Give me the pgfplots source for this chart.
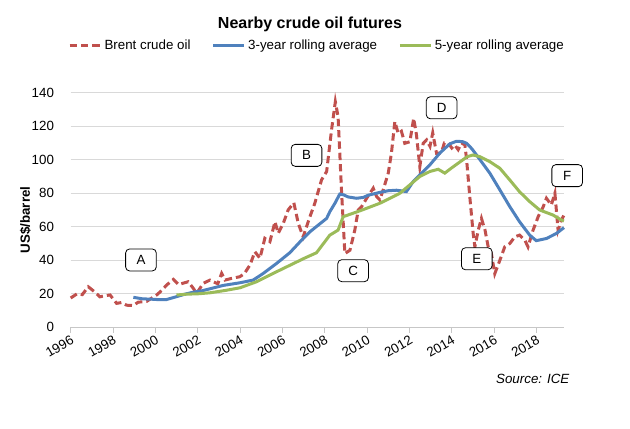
\documentclass[border=0pt]{standalone}
\usepackage{fontspec}
\setmainfont{Liberation Sans}
\usepackage{pgfplots}
\pgfplotsset{compat=1.18}
\usetikzlibrary{calc}

\definecolor{brentred}{RGB}{192,80,77}
\definecolor{avgblue}{RGB}{79,129,189}
\definecolor{avggreen}{RGB}{155,187,89}
\definecolor{gridgray}{RGB}{217,217,217}

\begin{document}
\begin{tikzpicture}
\begin{axis}[
  name=ax, at={(0,0)}, anchor=south west,
  width=370pt, height=176pt, scale only axis,
  xmin=1996, xmax=2019.3, ymin=0, ymax=140,
  xtick={1996,1998,...,2018}, ytick={0,20,...,140},
  /pgf/number format/assume math mode=true,
  /pgf/number format/1000 sep={},
  xticklabel style={rotate=30, anchor=north east, inner sep=1pt, font=\fontsize{10}{12}\selectfont},
  yticklabel style={font=\fontsize{10}{12}\selectfont, xshift=-5pt},
  separate axis lines,
  axis x line*=bottom, axis y line*=left,
  x axis line style={gridgray!80!gray, line width=0.75pt, -},
  y axis line style={draw=none},
  ytick style={draw=none},
  xtick style={gridgray!80!gray, line width=0.75pt},
  tick align=outside, major tick length=4pt,
  ymajorgrids, grid style={gridgray, line width=0.75pt},
  clip=false,
  legend columns=3,
  legend style={at={(0.5,1)}, anchor=center, yshift=35.5pt, draw=none, fill=none,
    font=\fontsize{10}{12}\selectfont,
    /tikz/every even column/.append style={column sep=14pt},
    inner sep=0pt},
  legend image code/.code={\draw[#1] (0pt,0pt) -- (23pt,0pt);},
]

\addplot[brentred, line width=2.25pt, dash pattern=on 5.5pt off 3pt] coordinates {
  (1996.0, 17.5) (1996.3, 20.0) (1996.55, 19.5) (1996.83, 24.2)
  (1997.1, 21.5) (1997.38, 18.2) (1997.6, 18.8) (1997.86, 19.3)
  (1998.17, 14.3) (1998.4, 14.8) (1998.64, 13.2) (1998.95, 13.0)
  (1999.19, 15.0) (1999.59, 15.5) (2000.06, 19.3) (2000.3, 22.0)
  (2000.53, 25.2) (2000.85, 28.6) (2001.1, 25.5) (2001.3, 26.3)
  (2001.55, 27.2) (2001.79, 23.3) (2001.95, 20.3) (2002.26, 26.2)
  (2002.58, 28.2) (2002.73, 27.2) (2002.95, 26.0) (2003.13, 32.2)
  (2003.29, 28.2) (2003.6, 29.2) (2003.99, 30.2) (2004.2, 32.0)
  (2004.47, 37.2) (2004.7, 45.1) (2004.94, 41.2) (2005.17, 53.1)
  (2005.41, 51.1) (2005.65, 63.0) (2005.8, 56.1) (2006.04, 62.0)
  (2006.27, 70.0) (2006.54, 74.3) (2006.75, 62.0) (2006.98, 54.0)
  (2007.3, 66.0) (2007.53, 74.0) (2007.85, 88.0) (2008.09, 93.0)
  (2008.32, 117.7) (2008.5, 134.6) (2008.63, 125.7) (2008.79, 82.0)
  (2008.95, 44.0) (2009.19, 46.0) (2009.42, 58.0) (2009.58, 70.0)
  (2009.74, 72.0) (2009.98, 77.0) (2010.29, 83.0) (2010.45, 78.0)
  (2010.6, 76.0) (2010.76, 82.0) (2011.0, 92.0) (2011.15, 104.0)
  (2011.31, 122.7) (2011.47, 115.7) (2011.62, 117.0) (2011.78, 109.8)
  (2012.02, 110.7) (2012.2, 124.7) (2012.33, 115.0) (2012.49, 95.8)
  (2012.65, 109.8) (2012.81, 111.8) (2012.97, 108.0) (2013.1, 116.0)
  (2013.28, 103.8) (2013.5, 104.0) (2013.65, 110.0) (2013.83, 110.0)
  (2014.0, 107.0) (2014.14, 108.8) (2014.3, 106.0) (2014.46, 110.0)
  (2014.62, 108.8) (2014.7, 100.0) (2014.85, 78.0) (2015.01, 56.0)
  (2015.09, 48.0) (2015.25, 58.0) (2015.4, 65.0) (2015.57, 58.0)
  (2015.72, 48.0) (2015.87, 44.0) (2016.03, 32.0) (2016.27, 40.0)
  (2016.5, 48.0) (2016.74, 50.0) (2016.98, 54.0) (2017.2, 55.0)
  (2017.45, 52.0) (2017.6, 48.0) (2017.84, 58.0) (2018.08, 66.0)
  (2018.32, 72.0) (2018.47, 77.0) (2018.7, 73.0) (2018.87, 80.0)
  (2019.02, 58.0) (2019.18, 64.0) (2019.3, 67.0)
};
\addlegendentry{Brent crude oil}

\addplot[avgblue, line width=2.25pt] coordinates {
  (1998.96, 17.9) (1999.4, 17.0) (1999.8, 16.8) (2000.06, 16.6)
  (2000.53, 16.6) (2001.0, 18.3) (2001.4, 19.8) (2001.8, 21.0)
  (2002.2, 21.8) (2002.58, 23.0) (2003.2, 25.0) (2004.0, 26.6)
  (2004.62, 28.2) (2005.1, 32.2) (2005.73, 38.2) (2006.35, 44.5)
  (2006.83, 51.0) (2007.3, 57.0) (2008.09, 65.0) (2008.24, 69.0)
  (2008.48, 74.0) (2008.71, 79.5) (2008.9, 79.0) (2009.1, 77.8)
  (2009.5, 77.0) (2009.82, 77.5) (2010.05, 78.8) (2010.6, 80.5)
  (2011.0, 81.5) (2011.39, 81.8) (2011.86, 81.0) (2012.18, 87.0)
  (2012.49, 91.0) (2012.97, 97.0) (2013.44, 104.0) (2013.91, 109.5)
  (2014.22, 111.0) (2014.5, 110.8) (2014.7, 109.8) (2014.95, 106.5)
  (2015.17, 102.8) (2015.8, 91.9) (2016.27, 82.0) (2016.74, 72.0)
  (2017.2, 63.0) (2017.68, 55.0) (2017.99, 51.7) (2018.47, 53.0)
  (2018.94, 56.0) (2019.3, 59.5)
};
\addlegendentry{3-year rolling average}

\addplot[avggreen, line width=2.25pt] coordinates {
  (2001.0, 19.3) (2001.5, 19.8) (2002.0, 20.0) (2002.58, 20.6)
  (2003.3, 22.0) (2004.0, 23.6) (2004.78, 27.2) (2005.73, 33.2)
  (2006.35, 37.0) (2007.0, 41.0) (2007.61, 44.5) (2008.24, 55.0)
  (2008.63, 58.0) (2008.87, 66.0) (2009.66, 69.5) (2010.6, 74.0)
  (2011.08, 77.0) (2011.55, 80.0) (2012.02, 85.0) (2012.49, 90.0)
  (2012.97, 93.0) (2013.36, 94.3) (2013.67, 92.0) (2013.98, 95.0)
  (2014.42, 99.0) (2014.73, 101.8) (2015.0, 102.8) (2015.33, 101.8)
  (2015.8, 98.8) (2016.27, 94.9) (2016.74, 87.9) (2017.2, 80.9)
  (2017.68, 75.0) (2018.15, 70.0) (2018.78, 67.0) (2019.18, 64.0)
  (2019.3, 63.5)
};
\addlegendentry{5-year rolling average}

\tikzset{lab/.style={draw=black, fill=white, rounded corners=3pt, line width=0.6pt,
  minimum width=23pt, minimum height=16.5pt, inner sep=0pt, font=\fontsize{10}{12}\selectfont}}
\node[lab] at (axis cs:1999.32,40.2) {A};
\node[lab] at (axis cs:2007.14,102.6) {B};
\node[lab] at (axis cs:2009.34,33.8) {C};
\node[lab] at (axis cs:2013.52,131) {D};
\node[lab] at (axis cs:2015.18,40.9) {E};
\node[lab] at (axis cs:2019.45,90.5) {F};
\end{axis}

\node[font=\fontsize{12}{14}\selectfont\bfseries] at ([xshift=-5.5pt,yshift=51pt]ax.north) {Nearby crude oil futures};
\node[rotate=90, font=\fontsize{10}{12}\selectfont\bfseries] at ([xshift=-34pt,yshift=-7.5pt]ax.west) {US\$/barrel};
\node[anchor=east, font=\fontsize{10}{12}\selectfont\itshape] at ([xshift=7.5pt,yshift=-39pt]ax.south east) {Source: ICE};

\path[use as bounding box] ([xshift=-53pt,yshift=-75.5pt]ax.south west) rectangle ([xshift=49.5pt,yshift=69.5pt]ax.north east);
\end{tikzpicture}
\end{document}
